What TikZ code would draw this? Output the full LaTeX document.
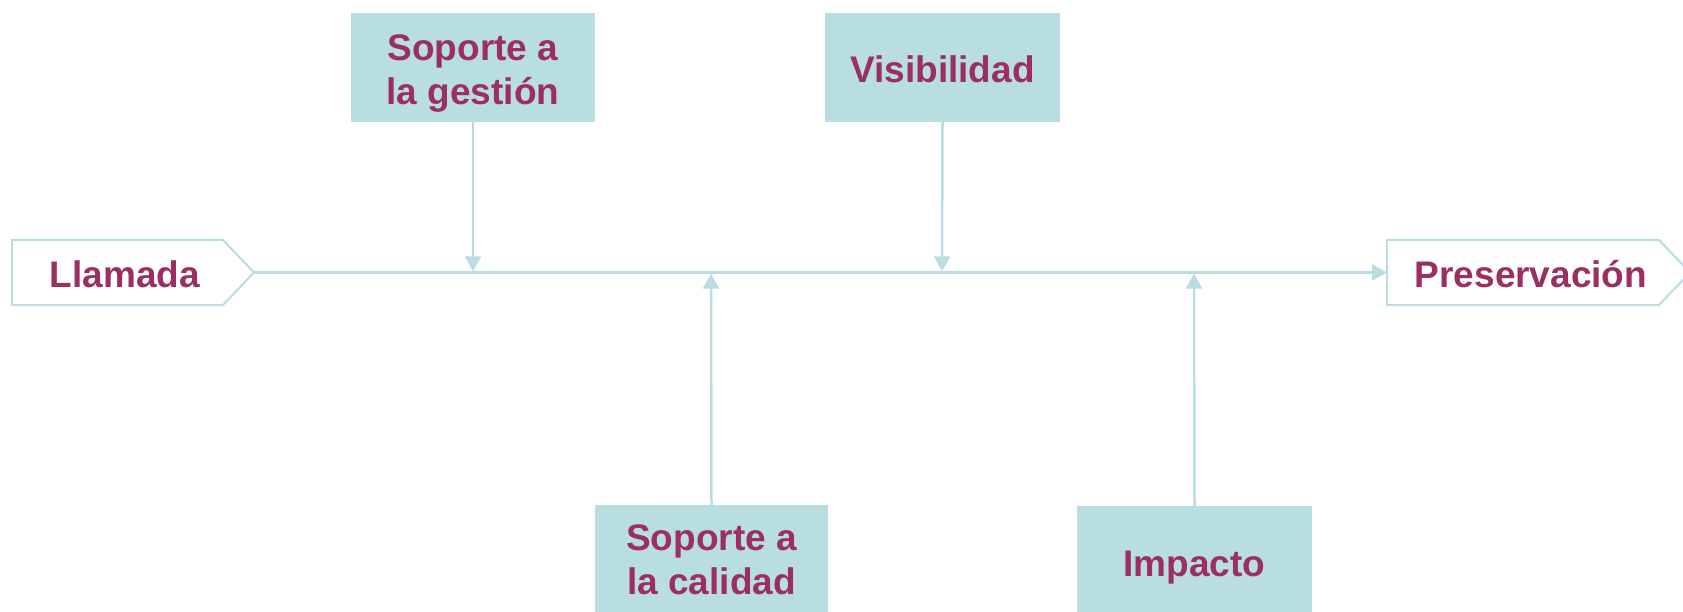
\documentclass[tikz,border=0pt]{standalone}
\usepackage{fontspec}
\setmainfont{Liberation Sans}
\usetikzlibrary{arrows.meta}
\definecolor{teal1}{HTML}{B8DEE2}
\definecolor{plum}{HTML}{9B2F62}
\tikzset{
  lbl/.style={text=plum, font=\fontsize{37}{44}\selectfont\bfseries, align=center, inner sep=0pt},
  cause/.style={fill=teal1, draw=none, rectangle, inner sep=0pt},
  outline/.style={draw=teal1, line width=2pt, fill=white},
  conn/.style={draw=teal1, line width=2.5pt, -{Triangle[length=15pt,width=16pt]}}
}
\begin{document}
\begin{tikzpicture}[x=1pt,y=-1pt]
\useasboundingbox (0,0) rectangle (1683,612);
% head and tail shapes
\coordinate (ltip) at (254,272.5);
\coordinate (pleft) at (1387,272.5);
\draw[outline] (12,240) -- (223,240) -- (ltip) -- (223,305) -- (12,305) -- cycle;
\draw[outline] (pleft |- 0,240) -- (1659,240) -- (1690,272.5) -- (1659,305) -- (pleft |- 0,305) -- cycle;
\node[lbl] (llamada) at (125,274) {Llamada};
\node[lbl] (pres) at (1531,274) {Preservación};
% cause boxes
\node[cause, minimum width=244pt, minimum height=109pt] (gestion) at (473,67.5) {};
\node[lbl] (gestionT) at (473,74) {Soporte a\\la gestión};
\node[cause, minimum width=235pt, minimum height=109pt] (visib) at (942.5,67.5) {};
\node[lbl] (visibT) at (942.5,69) {Visibilidad};
\node[cause, minimum width=233pt, minimum height=110pt] (calidad) at (711.5,560) {};
\node[lbl] (calidadT) at (711.5,560) {Soporte a\\la calidad};
\node[cause, minimum width=235pt, minimum height=110pt] (impacto) at (1194.5,561) {};
\node[lbl] (impactoT) at (1194.5,568) {Impacto};
% spine
\coordinate (g1) at (473,271.3);
\coordinate (v1) at (942,271.3);
\coordinate (c1) at (711,273.7);
\coordinate (i1) at (1194,273.7);
\draw[conn] (ltip) -- (pleft);
\draw[conn] (gestion.south) -- (g1);
\draw[conn] (visib.south) -- (v1);
\draw[conn] (calidad.north) -- (c1);
\draw[conn] (impacto.north) -- (i1);
\end{tikzpicture}
\end{document}
